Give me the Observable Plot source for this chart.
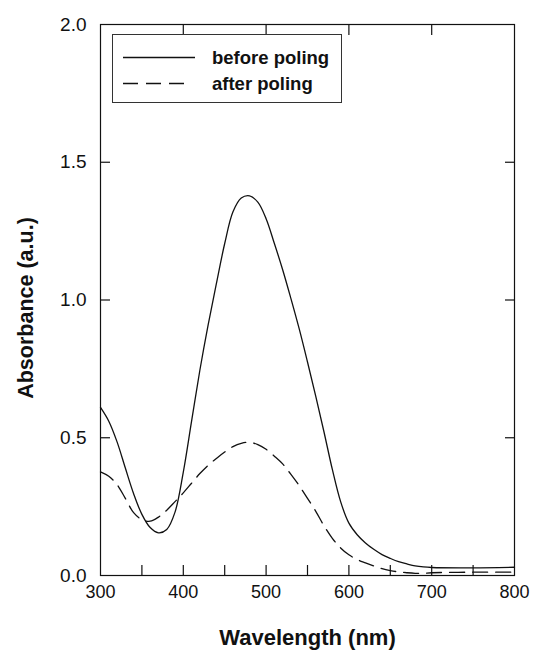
<!DOCTYPE html>
<html><head><meta charset="utf-8">
<script src="https://cdn.jsdelivr.net/npm/d3@7"></script>
<script src="https://cdn.jsdelivr.net/npm/@observablehq/plot@0.6"></script>
<style>
body{margin:0;background:#fff;}
#wrap{position:relative;width:534px;height:655px;}
#legend{position:absolute;left:112px;top:34px;width:230px;height:69px;border:1px solid #333;background:#fff;box-sizing:border-box;}
#legend svg{display:block;font-family:"Liberation Sans",Arial,sans-serif;font-weight:bold;font-size:18.5px;}
</style></head><body><div id="wrap"></div>
<script>
const wavelength = [300,310,320,330,340,350,360,370,380,390,400,410,420,430,440,450,460,470,480,490,500,510,520,530,540,550,560,570,580,590,600,610,620,630,640,650,660,670,680,690,700,750,800];
const beforePoling = [0.61,0.56,0.485,0.39,0.297,0.222,0.174,0.155,0.167,0.23,0.375,0.56,0.745,0.91,1.06,1.205,1.32,1.37,1.378,1.355,1.295,1.205,1.11,1.005,0.895,0.775,0.65,0.52,0.385,0.268,0.19,0.148,0.118,0.095,0.076,0.062,0.05,0.042,0.035,0.031,0.029,0.028,0.03];
const afterPoling = [0.376,0.36,0.33,0.28,0.228,0.203,0.197,0.212,0.237,0.268,0.30,0.335,0.37,0.40,0.425,0.448,0.468,0.48,0.484,0.475,0.458,0.433,0.405,0.367,0.326,0.28,0.233,0.18,0.135,0.1,0.075,0.058,0.046,0.035,0.025,0.018,0.013,0.01,0.008,0.008,0.01,0.012,0.012];
const seriesNames = ["before poling","after poling"];
const xTickLabels = [300,400,500,600,700,800];
const xBottomTicks = [350,400,450,500,550,600,650,700,750];
const xTopTicks = [400,500,600,700];
const yTickLabels = [0,0.5,1.0,1.5,2.0];
const yInnerTicks = [0.5,1.0,1.5];

const before = wavelength.map((w,i)=>({w, a: beforePoling[i]}));
const after = wavelength.map((w,i)=>({w, a: afterPoling[i]}));
const ink = "#111";
const font = "'Liberation Sans', Arial, sans-serif";
const tick = 10;

const chart = Plot.plot({
  width: 534, height: 655,
  marginLeft: 100, marginRight: 20, marginTop: 24, marginBottom: 80,
  style: {fontFamily: font, background: "#fff", color: ink},
  x: {domain: [300, 800]},
  y: {domain: [0, 2.0]},
  marks: [
    Plot.line(before, {x: "w", y: "a", stroke: ink, strokeWidth: 1.3, curve: "catmull-rom"}),
    Plot.line(after, {x: "w", y: "a", stroke: ink, strokeWidth: 1.3, strokeDasharray: "15,8", curve: "catmull-rom"}),
    Plot.frame({stroke: ink, strokeWidth: 1.2}),
    Plot.axisX({ticks: xBottomTicks, tickSize: tick, dy: -tick, tickFormat: () => "", label: null, stroke: ink, strokeWidth: 1.2}),
    Plot.axisX({anchor: "top", ticks: xTopTicks, tickSize: tick, dy: tick, tickFormat: () => "", label: null, stroke: ink, strokeWidth: 1.2}),
    Plot.axisX({ticks: xTickLabels, tickSize: 0, tickPadding: 10, fontSize: 18, label: null, fill: ink}),
    Plot.axisY({ticks: yInnerTicks, tickSize: tick, dx: tick, tickFormat: () => "", label: null, stroke: ink, strokeWidth: 1.2}),
    Plot.axisY({anchor: "right", ticks: yInnerTicks, tickSize: tick, dx: -tick, tickFormat: () => "", label: null, stroke: ink, strokeWidth: 1.2}),
    Plot.axisY({ticks: yTickLabels, tickSize: 0, tickPadding: 14, tickFormat: d3.format(".1f"), fontSize: 19, label: null, fill: ink}),
    Plot.text(["Absorbance (a.u.)"], {frameAnchor: "left", dx: -74, dy: 8, rotate: -90, fontSize: 21.5, fontWeight: "bold", fill: ink, textAnchor: "middle", lineAnchor: "middle"}),
    Plot.text(["Wavelength (nm)"], {frameAnchor: "bottom", dy: 62, fontSize: 22, fontWeight: "bold", fill: ink, textAnchor: "middle", lineAnchor: "middle"})
  ]
});
const wrap = document.getElementById("wrap");
wrap.appendChild(chart);

const leg = document.createElement("div");
leg.id = "legend";
leg.innerHTML = `<svg width="228" height="67">
<line x1="10" x2="82" y1="22.5" y2="22.5" stroke="${ink}" stroke-width="1.3"/>
<line x1="10" x2="76" y1="48.5" y2="48.5" stroke="${ink}" stroke-width="1.3" stroke-dasharray="15,8"/>
<text x="99" y="29" fill="${ink}">${seriesNames[0]}</text>
<text x="99" y="55" fill="${ink}">${seriesNames[1]}</text>
</svg>`;
wrap.appendChild(leg);
</script></body></html>
